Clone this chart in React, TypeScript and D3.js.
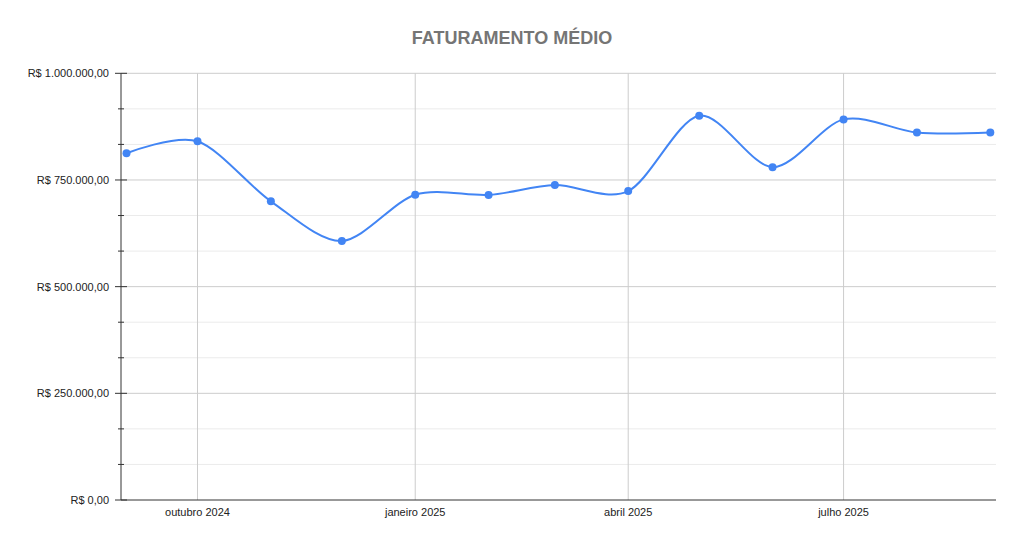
import React from "react";
import * as d3 from "d3";

const months: string[] = [
  "2024-09-01", "2024-10-01", "2024-11-01", "2024-12-01",
  "2025-01-01", "2025-02-01", "2025-03-01", "2025-04-01",
  "2025-05-01", "2025-06-01", "2025-07-01", "2025-08-01", "2025-09-01",
];
const values: number[] = [
  812500, 840600, 700000, 607000, 715500, 715000, 738000, 724000,
  900700, 780000, 892000, 861000, 861000,
];
const xTickDates: string[] = ["2024-10-01", "2025-01-01", "2025-04-01", "2025-07-01"];
const xTickLabels: string[] = ["outubro 2024", "janeiro 2025", "abril 2025", "julho 2025"];
const yMajorTicks: number[] = [0, 250000, 500000, 750000, 1000000];
const yMinorTicks: number[] = [83333, 166667, 333333, 416667, 583333, 666667, 833333, 916667];

const parse = (s: string) => {
  const [y, m, d] = s.split("-").map(Number);
  return new Date(Date.UTC(y, m - 1, d));
};

const fmt = (v: number) => {
  const s = Math.round(v).toString().replace(/\B(?=(\d{3})+(?!\d))/g, ".");
  return "R$ " + s + ",00";
};

export default function App() {
  const W = 1024, H = 546;
  const left = 121, right = 996, top = 73.3, bottom = 500;
  const x = d3.scaleUtc()
    .domain([parse(months[0]), parse(months[months.length - 1])])
    .range([126.5, 990.3]);
  const y = d3.scaleLinear().domain([0, 1000000]).range([bottom, top]);
  const pts: [number, number][] = months.map((m, i) => [x(parse(m)), y(values[i])]);
  const line = d3.line().curve(d3.curveCardinal.tension(0.1))(pts) || "";
  const font = "Arial, 'Liberation Sans', sans-serif";

  return (
    <svg width={W} height={H} style={{ position: "absolute", left: 0, top: 0 }} fontFamily={font}>
      <rect width={W} height={H} fill="#fff" />
      <text x={512} y={44} textAnchor="middle" fontSize={18} fontWeight="bold" fill="#757575">
        FATURAMENTO MÉDIO
      </text>
      {yMinorTicks.map((t) => (
        <g key={"mn" + t}>
          <line x1={left} x2={right} y1={y(t)} y2={y(t)} stroke="#ebebeb" strokeWidth={1} />
          <line x1={118} x2={124} y1={y(t)} y2={y(t)} stroke="#333" strokeWidth={1} />
        </g>
      ))}
      {yMajorTicks.map((t) => (
        <g key={"mj" + t}>
          {t > 0 && <line x1={left} x2={right} y1={y(t)} y2={y(t)} stroke="#cccccc" strokeWidth={1} />}
          <line x1={115} x2={127} y1={y(t)} y2={y(t)} stroke="#333" strokeWidth={1} />
          <text x={109} y={y(t) + 4} textAnchor="end" fontSize={11} fill="#222">{fmt(t)}</text>
        </g>
      ))}
      {xTickDates.map((d, i) => {
        const xx = x(parse(d));
        return (
          <g key={d}>
            <line x1={xx} x2={xx} y1={top} y2={bottom} stroke="#cccccc" strokeWidth={1} />
            <text x={xx} y={516} textAnchor="middle" fontSize={11} fill="#222">{xTickLabels[i]}</text>
          </g>
        );
      })}
      <line x1={left} x2={left} y1={top} y2={bottom} stroke="#333" strokeWidth={1} />
      <line x1={left} x2={right} y1={bottom} y2={bottom} stroke="#333" strokeWidth={1} />
      <path d={line} fill="none" stroke="#4285F4" strokeWidth={2} />
      {pts.map((p, i) => (
        <circle key={i} cx={p[0]} cy={p[1]} r={4} fill="#4285F4" />
      ))}
    </svg>
  );
}
